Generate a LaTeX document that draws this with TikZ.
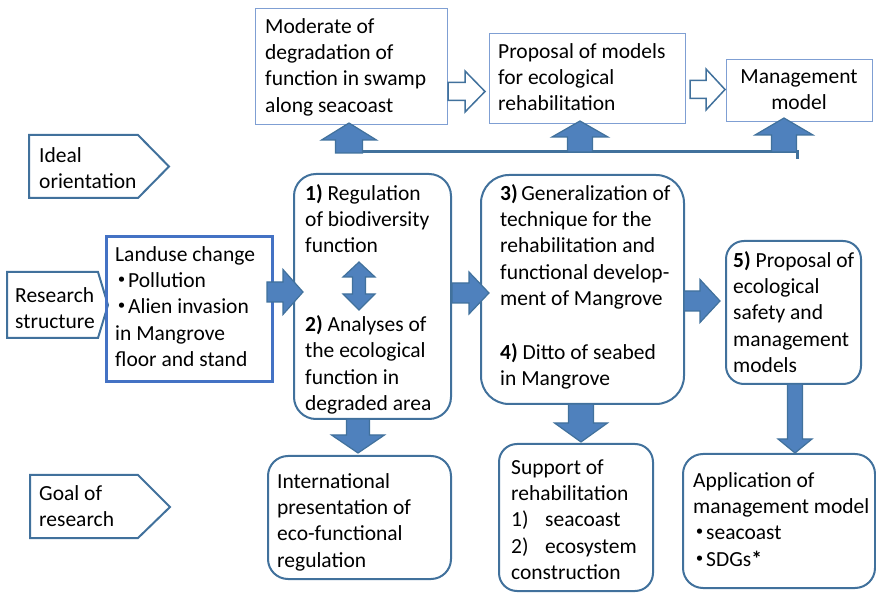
\documentclass[tikz,border=0pt]{standalone}
\usepackage{fontspec}
\setmainfont{Carlito}
\definecolor{bord}{HTML}{41719C}
\definecolor{afill}{HTML}{4F81BD}
\definecolor{lbord}{HTML}{7F9FD3}
\definecolor{mbord}{HTML}{4472C4}
\newcommand\fs{\fontsize{21.5}{26.3}\selectfont}
\newcommand\fl{\rule{0pt}{20pt}}
\newcommand\dt{\makebox[13pt][c]{\fontsize{28}{26.3}\selectfont\textbf{·}}}
\newcommand\harrow[6]{\fill[afill,draw=bord,line width=1.2pt] (#1,{#4-#5})--(#3,{#4-#5})--(#3,{#4-#6})--(#2,#4)--(#3,{#4+#6})--(#3,{#4+#5})--(#1,{#4+#5})--cycle;}
\newcommand\varrow[6]{\fill[afill,draw=bord,line width=1.2pt] ({#4-#5},#1)--({#4-#5},#3)--({#4-#6},#3)--(#4,#2)--({#4+#6},#3)--({#4+#5},#3)--({#4+#5},#1)--cycle;}
\newcommand\oarrow[6]{\draw[fill=white,draw=bord,line width=1.5pt] (#1,{#4-#5})--(#3,{#4-#5})--(#3,{#4-#6})--(#2,#4)--(#3,{#4+#6})--(#3,{#4+#5})--(#1,{#4+#5})--cycle;}
\begin{document}
\begin{tikzpicture}[x=1pt,y=-1pt,
  txt/.style={inner sep=0pt,anchor=north west,align=left,font=\fs},
  sbox/.style={draw=lbord,line width=1.3pt,anchor=north west,inner sep=0pt},
  rbox/.style={draw=bord,line width=2pt,anchor=north west,inner sep=0pt},
  pent/.style={draw=bord,line width=2pt,line join=miter}]
\useasboundingbox (0,0) rectangle (876,593);

% top boxes
\node[sbox,minimum width=192,minimum height=116] (mod) at (255,8) {};
\node[sbox,minimum width=196,minimum height=90] (prop) at (489,33) {};
\node[sbox,minimum width=146,minimum height=62] (mgmt) at (726,59) {};
\node[txt] (tmod) at (265,13) {\fl Moderate of\\degradation of\\function in swamp\\along seacoast};
\node[txt] (tprop) at (498,38) {\fl Proposal of models\\for ecological\\rehabilitation};
\node[txt,anchor=north,align=center] (tmgmt) at (799,63) {\fl Management\\model};

\oarrow{448}{485}{465}{91.5}{9}{20.5}
\oarrow{690}{725}{706}{89.5}{9}{20.5}

% connector line and up arrows
\draw[bord,line width=3pt] (349,152) -- (797,152) -- (797,159);
\varrow{153}{123}{140}{349}{13.5}{27.5}
\varrow{152}{121}{137}{580}{12.5}{28}
\varrow{152}{118}{135}{784}{12.5}{29}

% pentagons
\draw[pent] (29,135)--(138,135)--(169,166.5)--(138,198)--(29,198)--cycle;
\node[txt] (tideal) at (39,142) {\fl Ideal\\orientation};
\draw[pent] (7,272)--(98,272)--(108,305)--(98,338)--(7,338)--cycle;
\node[txt] (tres) at (15,282) {\fl Research\\structure};
\draw[pent] (30,475)--(138,475)--(170,507)--(138,538)--(30,538)--cycle;
\node[txt] (tgoal) at (39,480) {\fl Goal of\\research};

% landuse box
\node[draw=mbord,line width=3pt,anchor=north west,inner sep=0pt,minimum width=166,minimum height=145] (land) at (105,235) {};
\node[txt] (tland) at (115,241) {\fl Landuse change\\\dt Pollution\\\dt Alien invasion\\in Mangrove\\floor and stand};

% middle boxes
\node[rbox,rounded corners=22pt,minimum width=157,minimum height=245] (b12) at (293,173) {};
\node[txt] (tb12) at (305,180) {\fl\textbf{1)} Regulation\\of biodiversity\\function\\[52.6pt]\textbf{2)} Analyses of\\the ecological\\function in\\degraded area};
\node[rbox,rounded corners=28pt,minimum width=203,minimum height=229] (b34) at (480,174) {};
\node[txt] (tb34) at (500,180) {\fl\textbf{3)}\,Generalization of\\technique for the\\rehabilitation and\\functional develop-\\ment of Mangrove\\[28pt]\textbf{4)} Ditto of seabed\\in Mangrove};
\node[rbox,rounded corners=18pt,minimum width=135,minimum height=143] (b5) at (725,240) {};
\node[txt] (tb5) at (733,247) {\fl\textbf{5)} Proposal of\\ecological\\safety and\\management\\models};

% bottom boxes
\node[rbox,rounded corners=20pt,minimum width=183,minimum height=123] (intl) at (267,455) {};
\node[txt] (tintl) at (277,468) {\fl International\\presentation of\\eco-functional\\regulation};
\node[rbox,rounded corners=18pt,minimum width=154,minimum height=147] (supp) at (498,443) {};
\node[txt] (tsupp) at (511,454) {\fl Support of\\rehabilitation\\\makebox[34pt][l]{1)}seacoast\\\makebox[34pt][l]{2)}ecosystem\\construction};
\node[rbox,rounded corners=20pt,minimum width=192,minimum height=134] (app) at (682,453) {};
\node[txt] (tapp) at (693,467) {\fl Application of\\management model\\\dt seacoast\\\dt SDGs\textbf{*}};

% block arrows
\harrow{267}{303}{283}{292}{10}{22.5}
\harrow{452}{489}{469}{293}{10}{21}
\harrow{684}{720}{700}{301}{10}{21.5}
\varrow{419}{453}{435}{358}{11.5}{26.5}
\varrow{404}{442}{423}{581}{12.5}{26.5}
\varrow{384}{453}{439}{795}{7.5}{17}
% double arrow
\fill[afill,draw=bord,line width=1.2pt] (359,262)--(375,277)--(365.5,277)--(365.5,294)--(375,294)--(359,310)--(343,294)--(352.5,294)--(352.5,277)--(343,277)--cycle;
\end{tikzpicture}
\end{document}
